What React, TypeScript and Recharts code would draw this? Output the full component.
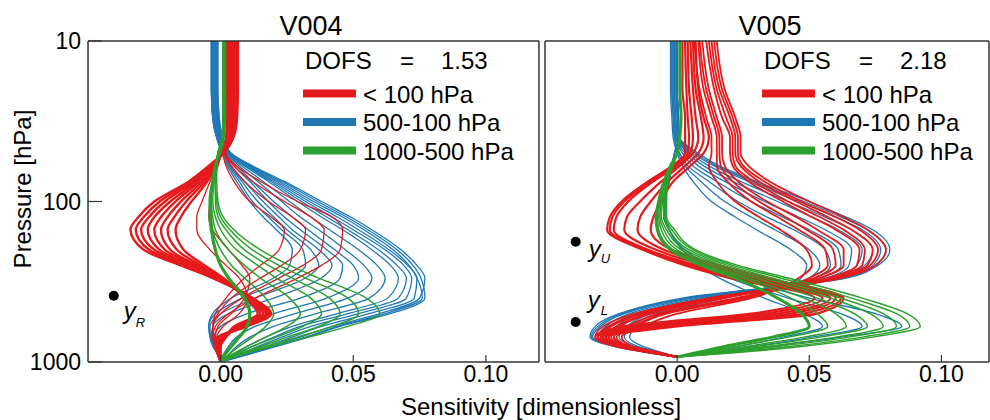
import { LineChart, Line, XAxis, YAxis, ReferenceDot } from "recharts";

const RED = "#e41a1c";
const BLUE = "#1f78b4";
const GREEN = "#2ca02c";
const AXIS = "#333";
const FONT = '"Liberation Sans", Arial, Helvetica, sans-serif';

// pressure levels [hPa] of the kernel rows
const levelsV004 = [10, 20, 30, 40, 50, 60, 75, 100, 125, 150, 200, 250, 300, 400, 500, 600, 700, 800, 900, 1000];
const levelsV005 = [10, 20, 30, 40, 50, 60, 75, 100, 125, 150, 200, 250, 300, 400, 500, 600, 700, 800, 870, 930];

// sensitivities (x 1e-3), one row per kernel, values at the levels above
const v004RedBand = [
  [6.5, 6.5, 6.2, 4.8, 1.0, -4.5, -12, -25, -31, -34, -29, -15, -3, 12, 19, 10, -1, -2, -1, 0],
  [6.0, 6.0, 5.8, 4.6, 1.0, -4.0, -11, -23, -29, -32, -27, -14, -2.5, 12, 18.5, 9.5, -0.5, -2, -1, 0],
  [5.3, 5.3, 5.2, 4.4, 0.8, -3.5, -10, -21, -27, -30, -25, -12.5, -2, 11.5, 18, 9, 0, -1.5, -1, 0],
  [4.6, 4.6, 4.6, 4.2, 0.8, -3.2, -9, -19, -25, -27.5, -23, -11.5, -1.5, 11, 17.5, 8.5, 0.5, -1.5, -0.5, 0],
  [3.9, 3.9, 4.0, 4.0, 0.6, -2.8, -8, -17, -22.5, -25, -21, -10, -1, 10.5, 17, 8, 1, -1, -0.5, 0],
  [3.1, 3.1, 3.3, 3.7, 0.5, -2.5, -7, -15, -20, -22.5, -19, -9, 0, 10, 16, 7, 1.5, -1, -0.5, 0],
  [2.4, 2.4, 2.7, 3.4, 0.4, -2.2, -6, -13, -17.5, -20, -16.5, -7.5, 0.5, 9.5, 15, 6, 2, -0.5, -0.5, 0],
  [1.7, 1.7, 2.1, 3.0, 0.3, -2.0, -5, -11, -15, -17, -14, -6, 1, 9, 14, 5, 2, 0, 0, 0],
];
const v004RedThin = [
  [3, 3, 2.5, 2, 2, 6, 15, 29, 42, 46, 45, 38, 29, 13, 3, -2, -3, -2, -1, 0],
  [3, 3, 2.5, 2, 1.5, 5, 12, 24, 34, 39, 38, 31, 22, 8, 0, -3, -3, -2, -1, 0],
  [3, 3, 2.5, 2, 1.5, 4, 9, 18, 27, 32, 30, 23, 15, 4, -1, -3, -3, -2, -1, 0],
  [3, 3, 2.5, 2, 1, 2, 5, 11, 19, 24, 22, 15, 9, 2, -2, -3, -2.5, -1.5, -0.5, 0],
  [3, 3, 2.5, 2.5, 0.5, -1, -2.5, -4, -4.5, -3, 3, 8, 11, 9, 4, -1, -2, -1.5, -0.5, 0],
  [3, 3, 2.5, 2.8, 0.5, -1.5, -4, -7, -9, -9, -4, 2, 7, 10, 7, 1, -1.5, -1.5, -0.5, 0],
];
const v004Blue = [
  [-1, -1, -0.5, 1, 4, 12, 24, 38, 49, 57, 68, 74, 77, 75, 60, 42, 30, 19, 9, 0],
  [-1.2, -1.2, -0.8, 0.8, 3.8, 11.5, 23, 36.5, 47.5, 55.5, 66.5, 72.5, 75.5, 77, 64, 45, 33, 21, 10, 0],
  [-1.5, -1.5, -1, 0.5, 3.5, 11, 22, 35, 46, 54, 65, 71, 74, 76, 62, 44, 32, 20, 10, 0],
  [-1.8, -1.8, -1.2, 0.2, 3.2, 10.5, 21, 33.5, 44, 52, 63.5, 70.5, 74, 73, 56, 38, 27, 17, 8, 0],
  [-2, -2, -1.5, 0, 3, 10, 20, 32, 42, 50, 62, 69, 72, 70, 52, 34, 23, 14, 7, 0],
  [-2, -2, -1.5, 0, 2.8, 9.5, 19, 30.5, 40, 48, 59.5, 66.5, 70, 67, 48, 30, 20, 12, 6, 0],
  [-2, -2, -1.5, 0, 2.5, 9, 18, 29, 38, 46, 57, 64, 67, 63, 44, 27, 17, 10, 5, 0],
  [-2.5, -2.5, -2, -0.5, 2, 8, 16, 26, 34, 41, 52, 59, 62, 56, 36, 20, 11, 6, 3, 0],
  [-2.5, -2.5, -2, -0.5, 2, 7, 14, 23, 30, 37, 47, 54, 57, 48, 28, 13, 6, 3, 1, 0],
  [-3, -3, -2.5, -1, 1.5, 6, 12, 20, 27, 33, 43, 50, 52, 40, 20, 6, 1, 0, 0, 0],
  [-3, -3, -2.5, -1, 1.5, 5, 11, 18, 24, 30, 40, 46, 45, 30, 10, 0, -2.5, -2, -1, 0],
  [-3, -3, -2.5, -1, 1, 4, 9, 16, 22, 27, 37, 42, 38, 20, 3, -3, -3.5, -2.5, -1, 0],
  [-3.5, -3.5, -3, -1.5, 1, 3.5, 8, 14, 20, 25, 34, 37, 32, 13, 0, -4, -4, -3, -1, 0],
  [-3.5, -3.5, -3, -1.5, 0.5, 3, 7, 12, 18, 23, 31, 32, 26, 8, -2, -4.5, -4, -2.5, -1, 0],
  [-3.5, -3.5, -3, -1.5, 0.5, 2.5, 6, 11, 16, 21, 27, 26, 20, 4, -3, -4.5, -3.5, -2, -1, 0],
];
const v004GreenLow = [
  [1.5, 1.5, 1.5, 1, -0.5, -2, -3, -4, -4, -3.5, -2, 0, 3, 9, 11, 10, 7, 4, 1.5, 0],
];
const v004Green = [
  [1, 1, 1, 0.5, -1, -2, -3, -4, -3.5, -3, 0, 4, 9, 17, 20, 17, 12, 7, 3, 0],
  [1, 1, 1, 0.5, -1, -2, -3, -3.5, -3, -2, 3, 9, 15, 26, 30, 25, 17, 10, 4, 0],
  [1, 1, 1, 0.5, -1, -2, -2.5, -3, -2, 0, 6, 14, 21, 34, 38, 31, 21, 12, 5, 0],
  [1, 1, 1, 0.5, -1, -1.5, -2, -2, -1, 2, 9, 18, 27, 41, 45, 37, 25, 15, 6, 0],
  [1, 1, 1, 0.5, -1, -1.5, -2, -1.5, 0, 3.5, 12, 22, 32, 48, 52, 42, 29, 17, 7, 0],
  [1, 1, 1, 0.5, -1, -1.5, -1.5, -1, 1, 5, 15, 26, 37, 55, 60, 48, 33, 19, 8, 0],
];

const v005RedBand = [
  [2, 2, 3, 3, 3, -2, -11, -21, -25.5, -26.5, -13, 3, 20, 52, 28, -20, -31, -23, -11, 0],
  [3, 3.5, 4, 4.5, 4, -1, -10, -20, -24.5, -25.5, -12, 5, 22, 55, 33, -16, -30, -22, -10, 0],
  [4, 4.5, 5.5, 6, 5, 0, -9, -18.5, -23, -24, -11, 7, 25, 58, 38, -12, -29, -21, -10, 0],
  [5, 6, 7, 8, 6, 1, -6, -14, -19, -20, -8, 10, 28, 60, 43, -8, -28, -21, -10, 0],
  [6, 7, 9, 10, 8, 3, -3.5, -10, -14, -15, -5, 13, 31, 62, 48, -4, -27, -20, -9, 0],
  [7, 8, 10, 12, 10, 5, -1.5, -6, -9, -10, -2, 16, 34, 63, 53, 0, -26, -20, -9, 0],
];
const v005RedFan = [
  [15, 18, 22, 24, 24, 27, 35, 50, 63, 72, 79, 75, 62, 12, -16, -28, -31, -23, -10, 0],
  [14, 17, 21, 23, 23, 25, 33, 47, 60, 69, 76, 73, 61, 13, -14, -26, -30, -22, -10, 0],
  [13, 16, 20, 22, 22, 24, 31, 45, 57, 66, 74, 72, 60, 15, -13, -25, -29, -22, -10, 0],
  [12, 15, 18.5, 21, 21, 22, 29, 42, 54, 63, 71, 70, 58, 16, -11, -23, -28, -21, -9, 0],
  [11, 14, 17, 20, 20, 21, 27, 40, 51, 60, 69, 68, 57, 18, -10, -22, -27, -21, -9, 0],
  [9.5, 12, 15, 17, 17, 18, 23, 34, 45, 53, 63, 63, 54, 22, -7, -19, -25, -19, -8, 0],
  [8.5, 11, 14, 16, 16, 16.5, 21, 31, 41, 49, 59, 60, 52, 24, -5, -17, -24, -18, -8, 0],
  [8, 10, 13, 15, 15, 15, 19, 28, 38, 46, 56, 57, 50, 26, -4, -16, -23, -18, -8, 0],
  [6.5, 8.5, 11, 13, 13, 12, 15, 22, 31, 39, 49, 51, 46, 28, 0, -13, -21, -17, -7, 0],
];
const v005Blue = [
  [0, 0, 0.5, 1, 8, 16, 30, 50, 64, 74, 80.5, 76, 64, 2, -22, -31, -33, -24, -12, 0],
  [-0.3, -0.3, 0.2, 0.8, 7, 15, 28.5, 48, 62, 72, 79, 75, 63, 3, -21, -30, -32.5, -23.5, -11.5, 0],
  [-0.5, -0.5, 0, 0.5, 6, 14, 27, 46, 60, 70, 77, 74, 62, 4, -20, -29, -32, -23, -11, 0],
  [-1, -1, -0.5, 0, 5, 12, 24, 42, 56, 66, 74, 71, 60, 6, -18, -27, -30, -22, -10, 0],
  [-1, -1, -0.5, 0, 4, 10, 21, 38, 51, 61, 70, 68, 58, 8, -16, -25, -28, -21, -10, 0],
  [-1.5, -1.5, -1, -0.5, 3, 8, 18, 33, 46, 56, 66, 65, 56, 10, -14, -23, -26, -19, -9, 0],
  [-1.5, -1.5, -1, -0.5, 2, 6, 15, 28, 40, 50, 61, 62, 54, 12, -12, -21, -24, -18, -8, 0],
  [-2, -2, -1.5, -1, 1, 4, 12, 23, 34, 44, 56, 58, 52, 14, -10, -19, -22, -16, -7, 0],
  [-2, -2, -1.5, -1, 0.5, 3, 9, 18, 28, 37, 50, 54, 50, 16, -8, -17, -20, -15, -7, 0],
  [-2.5, -2.5, -2, -1.5, 0, 2, 6, 13, 22, 30, 43, 49, 47, 18, -6, -15, -18, -13, -6, 0],
  [0, 0, 0.5, 0.5, -1, -2, -3, -5, -5, -3, 3, 12, 24, 50, 75, 85, 62, 35, 16, 0],
  [0, 0, 0.5, 0.5, -1, -2, -3, -5, -5, -3, 2, 10, 20, 42, 62, 70, 51, 29, 13, 0],
  [0, 0, 0.5, 0.5, -1, -2, -3, -5, -4.5, -3, 2, 8, 16, 33, 48, 55, 40, 23, 10, 0],
];
const v005GreenLow = [
  [1, 1, 1.5, 1, 0, -2.5, -5, -7, -8, -7.5, -2.5, 9, 22, 38, 47, 50, 36, 18, 8, 0],
];
const v005Green = [
  [1, 1, 1.5, 1, 0, -2.5, -5, -7, -7.5, -7, -1.5, 11, 25, 43, 53, 57, 42, 22, 10, 0],
  [1, 1, 1.5, 1, 0, -2.5, -4.5, -6.5, -7, -6, 0, 13, 27, 48, 60, 64, 48, 26, 12, 0],
  [1, 1, 1.5, 1, 0, -2, -4.5, -6, -6.5, -5, 1.5, 15, 30, 53, 67, 72, 54, 30, 14, 0],
  [1, 1, 1.5, 1, 0, -2, -4, -5.5, -6, -4, 3, 17, 33, 58, 73, 78, 60, 34, 16, 0],
  [1, 1, 1.5, 1, 0, -2, -4, -5, -5, -3, 4.5, 19, 36, 62, 78, 83, 65, 38, 18, 0],
  [1, 1, 1.5, 1, 0, -2, -3.5, -4.5, -4.5, -2, 6, 21, 39, 66, 83, 88, 70, 43, 21, 0],
  [1, 1, 1.5, 1, 0, -1.5, -3.5, -4, -4, -1, 7, 23, 42, 70, 87, 92, 74, 47, 24, 0],
];

// axis ticks
const pressureMajor = [10, 100, 1000];
const pressureMinor = [20, 30, 40, 50, 60, 70, 80, 90, 200, 300, 400, 500, 600, 700, 800, 900];
const sensMajor = [0, 0.05, 0.1];
const sensMinor = [-0.05, -0.04, -0.03, -0.02, -0.01, 0, 0.01, 0.02, 0.03, 0.04, 0.05, 0.06, 0.07, 0.08, 0.09, 0.1, 0.11];

const legendItems = [
  { label: "< 100 hPa", color: RED },
  { label: "500-100 hPa", color: BLUE },
  { label: "1000-500 hPa", color: GREEN },
];

// marker positions (sensitivity, pressure)
const v004Marks = [{ x: -0.0403, p: 387, name: "R", dx: 10, dy: 23, sdx: 22, sdy: 31 }];
const v005Marks = [
  { x: -0.0384, p: 178, name: "U", dx: 13, dy: 15, sdx: 25, sdy: 21 },
  { x: -0.0384, p: 563, name: "L", dx: 12, dy: -14, sdx: 25, sdy: -7 },
];

type Group = { key: string; curves: number[][]; color: string; width: number };
type Mark = { x: number; p: number; name: string; dx: number; dy: number; sdx: number; sdy: number };

function buildRows(levels: number[], groups: Group[]) {
  return levels.map((p, i) => {
    const row: Record<string, number> = { p };
    groups.forEach((g) => g.curves.forEach((c, j) => { row[`${g.key}${j}`] = c[i] / 1000; }));
    return row;
  });
}

const markLabel = (m: Mark) => (props: any) => {
  const vb = props.viewBox || { x: 0, y: 0, width: 0, height: 0 };
  const cx = vb.x + vb.width / 2;
  const cy = vb.y + vb.height / 2;
  return (
    <g>
      <text x={cx + m.dx} y={cy + m.dy} fontSize={24} fontStyle="italic" fontFamily={FONT} fill="#000">y</text>
      <text x={cx + m.sdx} y={cy + m.sdy} fontSize={13} fontStyle="italic" fontFamily={FONT} fill="#000">{m.name}</text>
    </g>
  );
};

const Panel = ({ left, width, margin, xMax, levels, groups, marks, labels }: {
  left: number; width: number; margin: { top: number; right: number; bottom: number; left: number };
  xMax: number; levels: number[]; groups: Group[]; marks: Mark[]; labels: boolean;
}) => {
  const rows = buildRows(levels, groups);
  const axisLine = { stroke: AXIS, strokeWidth: 1.5 };
  const tickLine = { stroke: AXIS, strokeWidth: 1.2 };
  // axes need a non-zero size to be drawn; keep it tiny so the plot box is set by the margins
  const yCommon = { type: "number" as const, dataKey: "p", scale: "log" as const, domain: [10, 1000], allowDataOverflow: true, width: 0.01, interval: 0 as const };
  const xCommon = { type: "number" as const, domain: [-0.05, xMax], allowDataOverflow: true, height: 0.01, interval: 0 as const };
  return (
    <div style={{ position: "absolute", left, top: 0 }}>
      <LineChart width={width} height={420} data={rows} layout="vertical" margin={margin}>
        <XAxis xAxisId="b" {...xCommon} ticks={sensMajor} tickSize={-7} tickMargin={11}
          tickFormatter={(v: number) => v.toFixed(2)} axisLine={axisLine} tickLine={tickLine}
          tick={{ fontSize: 23, fill: "#000", fontFamily: FONT }} />
        <XAxis xAxisId="bm" {...xCommon} ticks={sensMinor} tickSize={-3} tick={false} axisLine={false} tickLine={tickLine} />
        <XAxis xAxisId="t" orientation="top" {...xCommon} ticks={sensMinor} tickSize={-4} tick={false} axisLine={axisLine} tickLine={tickLine} />
        <YAxis yAxisId="l" {...yCommon} ticks={pressureMajor} tickSize={-14} tickMargin={21}
          tickFormatter={(v: number) => String(v)} axisLine={axisLine} tickLine={tickLine}
          tick={labels ? { fontSize: 23, fill: "#000", fontFamily: FONT } : false} />
        <YAxis yAxisId="lm" {...yCommon} ticks={pressureMinor} tickSize={-7} tick={false} axisLine={false} tickLine={tickLine} />
        <YAxis yAxisId="r" orientation="right" {...yCommon} ticks={pressureMajor} tickSize={-14} tick={false} axisLine={axisLine} tickLine={tickLine} />
        <YAxis yAxisId="rm" orientation="right" {...yCommon} ticks={pressureMinor} tickSize={-7} tick={false} axisLine={false} tickLine={tickLine} />
        {groups.map((g) =>
          g.curves.map((_, j) => (
            <Line key={`${g.key}${j}`} dataKey={`${g.key}${j}`} xAxisId="b" yAxisId="l" type="monotone"
              stroke={g.color} strokeWidth={g.width} dot={false} activeDot={false} isAnimationActive={false} />
          ))
        )}
        {marks.map((m) => (
          <ReferenceDot key={m.name} x={m.x} y={m.p} xAxisId="b" yAxisId="l" r={5} fill="#000" stroke="none" label={markLabel(m)} />
        ))}
      </LineChart>
    </div>
  );
};

const Legend = ({ x, dofs }: { x: number; dofs: string }) => (
  <g fontFamily={FONT} fontSize={24} fill="#000">
    <text x={x + 2} y={69}>DOFS</text>
    <text x={x + 97} y={69}>=</text>
    <text x={x + 138} y={69}>{dofs}</text>
    {legendItems.map((it, i) => (
      <g key={it.label}>
        <line x1={x} x2={x + 53} y1={93.5 + i * 28.5} y2={93.5 + i * 28.5} stroke={it.color} strokeWidth={8} />
        <text x={x + 60} y={102.5 + i * 28.5}>{it.label}</text>
      </g>
    ))}
  </g>
);

export default function App() {
  const g004: Group[] = [
    { key: "b", curves: v004Blue, color: BLUE, width: 1.3 },
    { key: "rb", curves: v004RedBand, color: RED, width: 2.4 },
    { key: "rt", curves: v004RedThin, color: RED, width: 1.3 },
    { key: "g", curves: v004Green, color: GREEN, width: 1.5 },
    { key: "gl", curves: v004GreenLow, color: GREEN, width: 3.2 },
  ];
  const g005: Group[] = [
    { key: "b", curves: v005Blue, color: BLUE, width: 1.3 },
    { key: "rb", curves: v005RedBand, color: RED, width: 2.2 },
    { key: "rf", curves: v005RedFan, color: RED, width: 1.8 },
    { key: "g", curves: v005Green, color: GREEN, width: 1.5 },
    { key: "gl", curves: v005GreenLow, color: GREEN, width: 3 },
  ];
  return (
    <div style={{ position: "absolute", left: 0, top: 0, width: 990, height: 420, background: "#fff", overflow: "hidden" }}>
      <Panel left={0} width={545} margin={{ top: 41, right: 6, bottom: 58, left: 88 }} xMax={0.12}
        levels={levelsV004} groups={g004} marks={v004Marks} labels={true} />
      <Panel left={540} width={450} margin={{ top: 41, right: 1, bottom: 58, left: 5 }} xMax={0.118}
        levels={levelsV005} groups={g005} marks={v005Marks} labels={false} />
      <svg width={990} height={420} style={{ position: "absolute", left: 0, top: 0, pointerEvents: "none" }}>
        <g fontFamily={FONT} fill="#000">
          <text x={311} y={35} fontSize={27} textAnchor="middle">V004</text>
          <text x={770} y={35} fontSize={27} textAnchor="middle">V005</text>
          <text transform="translate(31,189) rotate(-90)" fontSize={24} textAnchor="middle">Pressure [hPa]</text>
          <text x={541} y={415} fontSize={24} textAnchor="middle">Sensitivity [dimensionless]</text>
        </g>
        <Legend x={303} dofs="1.53" />
        <Legend x={762} dofs="2.18" />
      </svg>
    </div>
  );
}
